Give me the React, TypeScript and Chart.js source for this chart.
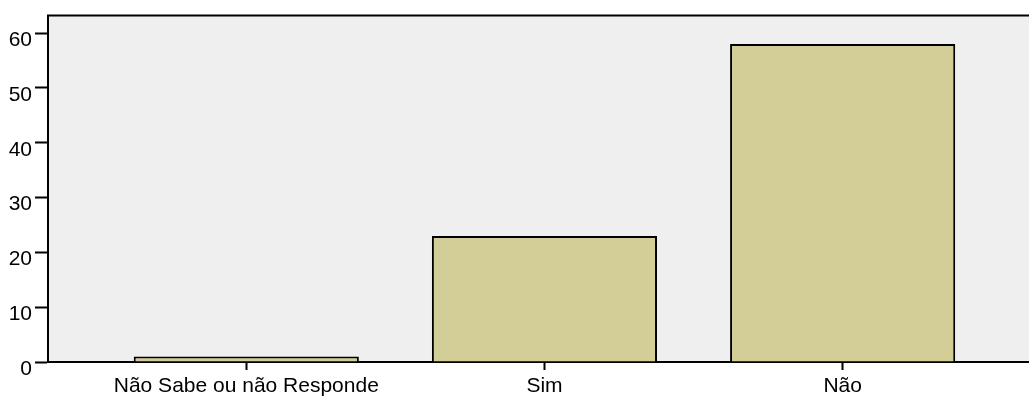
import React, { useEffect, useRef } from "react";
import { Chart, registerables } from "chart.js";

Chart.register(...registerables);

const categories = ["Não Sabe ou não Responde", "Sim", "Não"];
const counts = [1, 23, 58];
const yTickValues = [0, 10, 20, 30, 40, 50, 60];

const FONT = "'Liberation Sans', Arial, sans-serif";

const framePlugin = {
  id: "frame",
  beforeDraw(chart: any) {
    const { ctx, chartArea } = chart;
    ctx.save();
    ctx.fillStyle = "#efefef";
    ctx.fillRect(chartArea.left, chartArea.top, chartArea.right - chartArea.left, chartArea.bottom - chartArea.top);
    ctx.restore();
  },
  afterDraw(chart: any) {
    const { ctx, chartArea } = chart;
    ctx.save();
    ctx.strokeStyle = "#000";
    ctx.lineWidth = 2;
    ctx.beginPath();
    ctx.moveTo(chartArea.left - 1, chartArea.top);
    ctx.lineTo(chartArea.right, chartArea.top);
    ctx.stroke();
    ctx.restore();
  },
};

export default function App() {
  const ref = useRef<HTMLCanvasElement | null>(null);
  useEffect(() => {
    document.body.style.margin = "0";
    if (!ref.current) return;
    const chart = new Chart(ref.current, {
      type: "bar",
      data: {
        datasets: [
          {
            data: counts.map((v, i) => ({ x: i, y: v })),
            backgroundColor: "#d3ce98",
            borderColor: "#000",
            borderWidth: 2,
            barPercentage: 0.755,
            categoryPercentage: 1,
          },
        ],
      },
      options: {
        animation: false,
        responsive: false,
        devicePixelRatio: 1,
        layout: { padding: { top: 13, right: 0, left: 0, bottom: 0 } },
        plugins: { legend: { display: false }, tooltip: { enabled: false } },
        scales: {
          x: {
            type: "linear",
            min: -0.665,
            max: 2.625,
            offset: false,
            grid: {
              offset: false,
              display: true,
              drawOnChartArea: false,
              drawTicks: true,
              tickLength: 8,
              tickColor: "#000",
              tickWidth: 2,
            },
            border: { display: true, color: "#000", width: 2 },
            afterBuildTicks: (s: any) => {
              s.ticks = categories.map((_, i) => ({ value: i }));
            },
            afterFit: (s: any) => {
              s.height = 34;
            },
            ticks: {
              autoSkip: false,
              maxRotation: 0,
              padding: 4,
              color: "#000",
              font: { family: FONT, size: 21 },
              callback: (v: any) => categories[v as number] ?? "",
            },
          },
          y: {
            type: "linear",
            min: 0,
            max: 63.2,
            grid: {
              display: true,
              drawOnChartArea: false,
              drawTicks: true,
              tickLength: 13,
              tickColor: "#000",
              tickWidth: 2,
            },
            border: { display: true, color: "#000", width: 2 },
            afterBuildTicks: (s: any) => {
              s.ticks = yTickValues.map((v) => ({ value: v }));
            },
            afterFit: (s: any) => {
              s.width = 48;
            },
            ticks: {
              padding: 3,
              labelOffset: 7,
              color: "#000",
              font: { family: FONT, size: 21 },
            },
          },
        },
      },
      plugins: [framePlugin],
    } as any);
    return () => chart.destroy();
  }, []);
  return (
    <div style={{ width: 1029, height: 396 }}>
      <canvas ref={ref} width={1029} height={396} style={{ display: "block" }} />
    </div>
  );
}
